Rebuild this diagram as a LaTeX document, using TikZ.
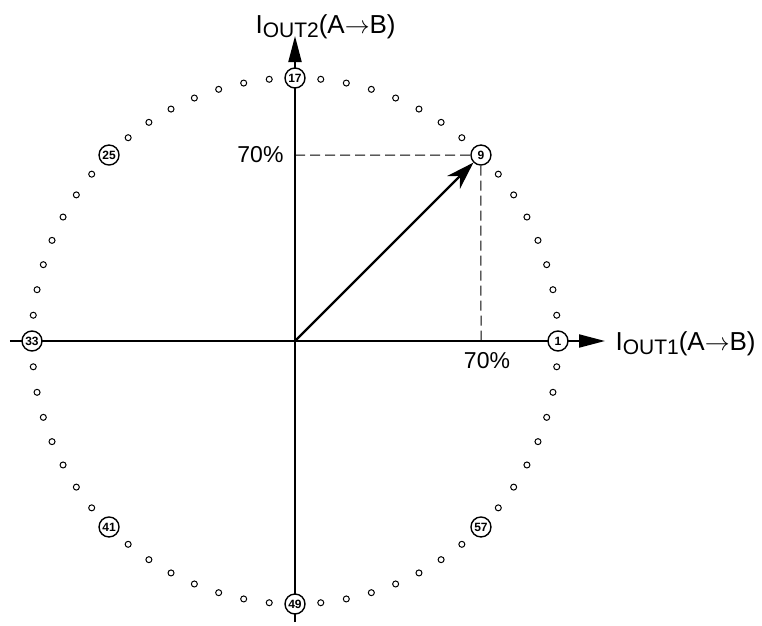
\documentclass[tikz,border=0pt]{standalone}
\usepackage{fontspec}
\setmainfont{Liberation Sans}
\usetikzlibrary{arrows.meta}

\begin{document}
\begin{tikzpicture}[x=1pt, y=1pt, >=Stealth,
    smalltap/.style={circle, draw, line width=1pt, fill=white, inner sep=0pt, minimum size=6pt},
    bigtap/.style={circle, draw, line width=1.4pt, fill=white, inner sep=0pt, minimum size=20pt,
        font=\fontsize{12}{12}\selectfont\bfseries},
    axis/.style={line width=2pt, -{Triangle[length=26pt, width=13pt]}},
    guide/.style={line width=1pt, dash pattern=on 10pt off 5pt},
    lbl/.style={font=\fontsize{23}{23}\selectfont}]
    \useasboundingbox (-295,-284) rectangle (467,341);

    % axes
    \coordinate (o) at (0,0);
    \coordinate (xl) at (-285,0);
    \coordinate (xr) at (310,0);
    \coordinate (yb) at (0,-281);
    \coordinate (yt) at (0,305);
    \draw[axis] (xl) -- (xr);
    \draw[axis] (yb) -- (yt);

    % taps around the circle
    \foreach \i in {1,...,64}{
        \pgfmathtruncatemacro\k{mod(\i-1,8)}
        \ifnum\k=0
            \node[bigtap] (p\i) at ({(\i-1)*5.625}:263) {\i};
        \else
            \node[smalltap] (p\i) at ({(\i-1)*5.625}:263) {};
        \fi
    }

    % vector and its projections
    \coordinate (py) at (0,186);
    \coordinate (px) at (186,0);
    \draw[guide] (py) -- (p9.west);
    \draw[guide] (p9.south) -- (px);
    \draw[line width=2.2pt, -{Stealth[length=28pt, width=18pt]}] (o) -- (p9);

    % labels
    \node[lbl, anchor=base east] (ly) at (-8,179) {70\%};
    \node[lbl, anchor=base] (lx) at (192,-27) {70\%};
    \node[anchor=base west, font=\fontsize{26}{26}\selectfont] (n1) at (317,-9)
        {I\raisebox{-4pt}{\fontsize{21}{21}\selectfont OUT1}(A\(\rightarrow\)B)};
    \node[anchor=base west, font=\fontsize{26}{26}\selectfont] (n2) at (-43,308)
        {I\raisebox{-4pt}{\fontsize{21}{21}\selectfont OUT2}(A\(\rightarrow\)B)};
\end{tikzpicture}
\end{document}
